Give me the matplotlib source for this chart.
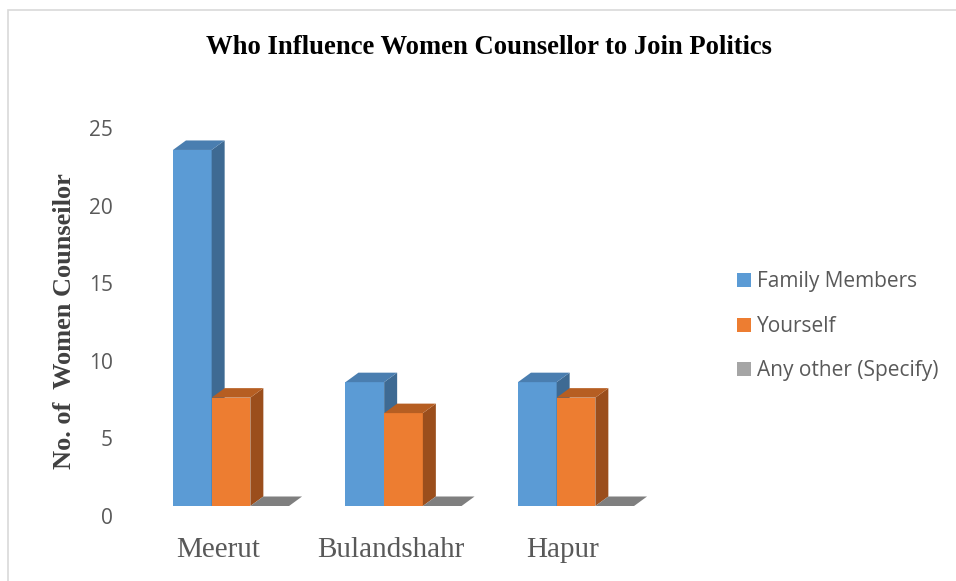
import numpy as np
import matplotlib
matplotlib.use('Agg')
import matplotlib.pyplot as plt
import matplotlib.transforms as mtransforms
from matplotlib.patches import Rectangle, Polygon

# data
districts = ['Meerut', 'Bulandshahr', 'Hapur']
series = ['Family Members', 'Yourself', 'Any other (Specify)']
family = [23, 8, 8]
yourself = [7, 6, 7]
other = [0, 0, 0]
values = [family, yourself, other]
yticks = [0, 5, 10, 15, 20, 25]

# front, top, side colours for the fake 3D look
front_cols = ['#5B9BD5', '#ED7D31', '#A5A5A5']
top_cols = ['#4A7EB0', '#B65E22', '#7F7F7F']
side_cols = ['#3E6A93', '#9B4E1C', '#6E6E6E']

W, H = 956, 581
fig = plt.figure(figsize=(W / 100, H / 100), dpi=100)

# plot area in pixels
left_px, right_px, bot_px = 160, 700, 506
px_x = 172.5   # pixels per category step
px_y = 15.48   # pixels per unit
ymax = 26
top_px = bot_px - ymax * px_y
ax = fig.add_axes([left_px / W, (H - bot_px) / H, (right_px - left_px) / W, (bot_px - top_px) / H])
ax.set_xlim((left_px - 231) / px_x, (right_px - 231) / px_x)
ax.set_ylim(0, ymax)

w = 38.7 / px_x
dx = 13 / px_x
dy = 9.5 / px_y

for i in range(len(districts)):
    for s in range(len(series)):
        v = values[s][i]
        x0 = i - 1.5 * w + s * w
        ax.add_patch(Rectangle((x0, 0), w, v, fc=front_cols[s], ec='none', clip_on=False))
        ax.add_patch(Polygon([(x0 + w, 0), (x0 + w + dx, dy), (x0 + w + dx, v + dy), (x0 + w, v)],
                             closed=True, fc=side_cols[s], ec='none', clip_on=False))
        ax.add_patch(Polygon([(x0, v), (x0 + w, v), (x0 + w + dx, v + dy), (x0 + dx, v + dy)],
                             closed=True, fc=top_cols[s], ec='none', clip_on=False))

for sp in ax.spines.values():
    sp.set_visible(False)

ax.set_yticks(yticks)
ax.set_yticklabels([str(t) for t in yticks], fontfamily='Open Sans', fontsize=15, color='#595959')
ax.tick_params(axis='y', length=0, pad=34)
shift = mtransforms.ScaledTranslation(0, -9.5 / 100, fig.dpi_scale_trans)
for lab in ax.get_yticklabels():
    lab.set_transform(lab.get_transform() + shift)

ax.set_xticks(np.arange(len(districts)) - 13 / px_x)
ax.set_xticklabels(districts, fontfamily='Liberation Serif', fontsize=21, color='#595959')
ax.tick_params(axis='x', length=0, pad=22)

ax.set_ylabel('No. of  Women Counseilor', fontfamily='Liberation Serif', fontsize=19,
              fontweight='bold', color='#404040')
ax.yaxis.set_label_coords((76 - left_px) / (right_px - left_px), (bot_px - 321) / (bot_px - top_px))

fig.text(489 / W, 1 - 47 / H, 'Who Influence Women Counsellor to Join Politics',
         fontfamily='Liberation Serif', fontsize=19.2, fontweight='bold', ha='center', va='center')

# legend
leg_y = [280, 325, 369]
for s, name in enumerate(series):
    fig.patches.append(Rectangle((737 / W, 1 - (leg_y[s] + 7) / H), 14 / W, 14 / H,
                                 fc=front_cols[s], ec='none', transform=fig.transFigure))
    fig.text(757 / W, 1 - (leg_y[s] + 1.5) / H, name, fontfamily='Open Sans', fontsize=15,
             color='#595959', va='center', ha='left')

# outer chart border
fig.patches.append(Rectangle((8 / W, -0.1), 1.2, 1.1 - 10 / H, fill=False, ec='#D9D9D9',
                             lw=1.2, transform=fig.transFigure))

fig.savefig('out.png', dpi=100)
